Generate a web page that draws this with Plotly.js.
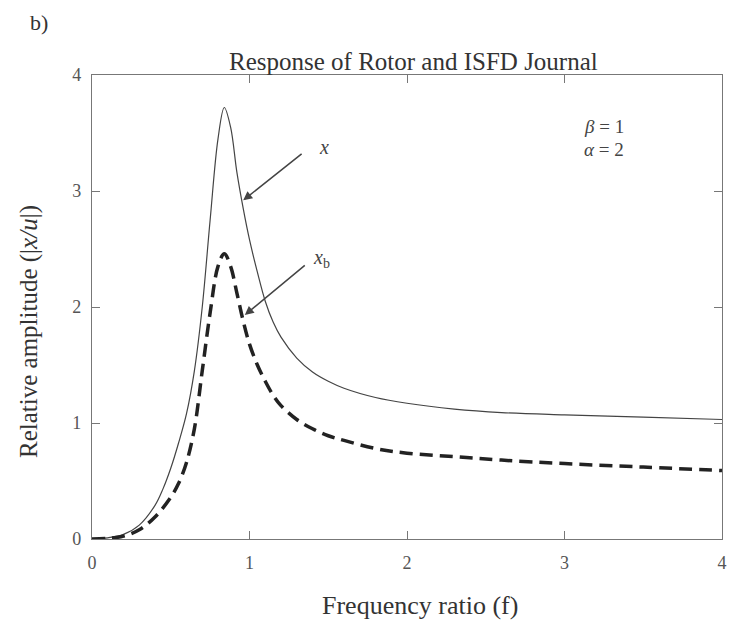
<!DOCTYPE html>
<html>
<head>
<meta charset="utf-8">
<script src="https://cdn.plot.ly/plotly-3.0.1.min.js"></script>
<style>html,body{margin:0;padding:0;background:#fff;}#chart{width:734px;height:629px;}</style>
</head>
<body>
<div id="chart"></div>
<script>
const freqX = [0, 0.1, 0.2, 0.3, 0.4, 0.45, 0.5, 0.55, 0.6, 0.65, 0.7, 0.75, 0.8, 0.84, 0.88, 0.92, 0.96, 1.0, 1.05, 1.1, 1.15, 1.2, 1.3, 1.4, 1.5, 1.6, 1.8, 2.0, 2.3, 2.6, 3.0, 3.5, 4.0];
const ampX  = [0, 0.01, 0.04, 0.12, 0.29, 0.43, 0.61, 0.83, 1.08, 1.45, 2.0, 2.75, 3.45, 3.72, 3.55, 3.16, 2.85, 2.58, 2.3, 2.05, 1.87, 1.74, 1.56, 1.44, 1.36, 1.30, 1.22, 1.17, 1.12, 1.09, 1.07, 1.05, 1.03];
const freqXb = [0, 0.1, 0.2, 0.3, 0.4, 0.5, 0.55, 0.6, 0.65, 0.7, 0.75, 0.8, 0.84, 0.88, 0.92, 0.96, 1.0, 1.05, 1.1, 1.15, 1.2, 1.3, 1.4, 1.5, 1.6, 1.8, 2.0, 2.3, 2.6, 3.0, 3.5, 4.0];
const ampXb  = [0, 0.005, 0.025, 0.08, 0.19, 0.36, 0.48, 0.66, 0.95, 1.45, 1.95, 2.35, 2.46, 2.35, 2.12, 1.88, 1.68, 1.5, 1.36, 1.24, 1.15, 1.03, 0.95, 0.89, 0.85, 0.78, 0.74, 0.71, 0.68, 0.65, 0.62, 0.59];
const tickVals = [0, 1, 2, 3, 4];
const tickText = ['0', '1', '2', '3', '4'];

const serif = '"Liberation Serif", "Times New Roman", serif';

const traces = [
  {x: freqX, y: ampX, mode: 'lines', line: {color: '#444', width: 1.2, shape: 'spline', smoothing: 1}, name: 'x', hoverinfo: 'none'},
  {x: freqXb, y: ampXb, mode: 'lines', line: {color: '#222', width: 3.5, dash: '13px,7px', shape: 'spline', smoothing: 1}, name: 'xb', hoverinfo: 'none'}
];

const axisCommon = {
  showgrid: false, zeroline: false, showline: true, linecolor: '#777', linewidth: 1.2,
  mirror: 'ticks', ticks: 'inside', ticklen: 8, tickcolor: '#777', tickwidth: 1,
  tickfont: {family: serif, size: 18, color: '#555'}
};

const W = 734, H = 629, L = 92, R = 12, T = 75, B = 90;
const pw = W - L - R, ph = H - T - B;
function px(xp) { return (xp - L) / pw; }
function py(yp) { return (H - B - yp) / ph; }

function label(text, xp, yp, size, extra) {
  return Object.assign({x: px(xp), y: py(yp), xref: 'paper', yref: 'paper', text: text, showarrow: false,
    xanchor: 'center', yanchor: 'middle', font: {family: serif, size: size, color: '#333'}}, extra || {});
}

const layout = {
  width: W, height: H,
  margin: {l: L, r: R, t: T, b: B},
  paper_bgcolor: '#fff', plot_bgcolor: '#fff',
  showlegend: false,
  font: {family: serif, color: '#333'},
  xaxis: Object.assign({}, axisCommon, {range: [0, 4], tickvals: tickVals, ticktext: tickText, ticklabelstandoff: 7}),
  yaxis: Object.assign({}, axisCommon, {range: [0, 4], tickvals: tickVals, ticktext: tickText, ticklabelstandoff: 6}),
  annotations: [
    {x: 0.96, y: 2.92, ax: 1.35, ay: 3.34, xref: 'x', yref: 'y', axref: 'x', ayref: 'y', text: ' ', showarrow: true, arrowhead: 2, arrowsize: 1.2, arrowwidth: 1.5, arrowcolor: '#444'},
    {x: 1.47, y: 3.38, xref: 'x', yref: 'y', text: '<i>x</i>', showarrow: false, font: {family: serif, size: 20, color: '#444'}},
    {x: 0.97, y: 1.93, ax: 1.37, ay: 2.38, xref: 'x', yref: 'y', axref: 'x', ayref: 'y', text: ' ', showarrow: true, arrowhead: 2, arrowsize: 1.2, arrowwidth: 1.5, arrowcolor: '#444'},
    {x: 1.46, y: 2.42, xref: 'x', yref: 'y', text: '<i>x</i><sub>b</sub>', showarrow: false, font: {family: serif, size: 20, color: '#444'}},
    {x: 3.11, y: 3.56, xref: 'x', yref: 'y', text: '<i>β</i> = 1', showarrow: false, xanchor: 'left', font: {family: serif, size: 19, color: '#444'}},
    {x: 3.11, y: 3.36, xref: 'x', yref: 'y', text: '<i>α</i> = 2', showarrow: false, xanchor: 'left', font: {family: serif, size: 19, color: '#444'}},
    label('b)', 39, 22, 22),
    label('Response of Rotor and ISFD Journal', 413, 61, 25),
    label('Frequency ratio (f)', 420, 605, 26),
    label('Relative amplitude (|<i>x/u</i>|)', 29, 332, 25, {textangle: -90})
  ]
};

Plotly.newPlot('chart', traces, layout, {staticPlot: true});
</script>
</body>
</html>
